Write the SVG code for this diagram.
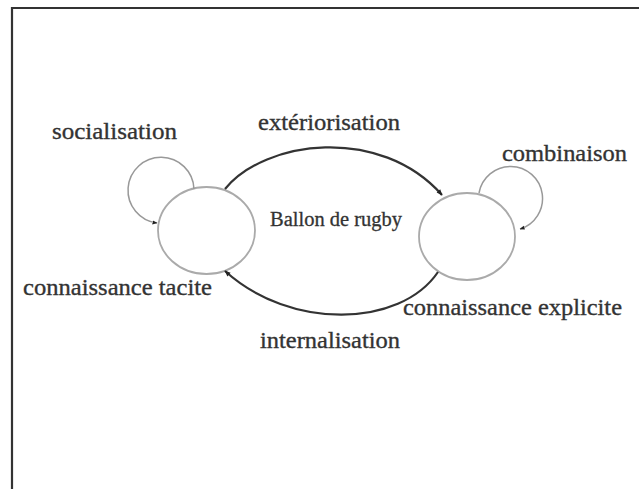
<svg xmlns="http://www.w3.org/2000/svg" width="639" height="489" viewBox="0 0 639 489">
  <style>
    .lbl { font-family: "Liberation Serif", "Times New Roman", "DejaVu Serif", serif; font-size: 24px; fill: #333; stroke: #333; stroke-width: 0.35; }
    .mid { font-family: "Liberation Serif", "Times New Roman", "DejaVu Serif", serif; font-size: 20px; fill: #333; stroke: #333; stroke-width: 0.3; }
    .node { fill: #fff; stroke: #aaa; stroke-width: 1.8; }
    .loop { fill: none; stroke: #999; stroke-width: 1.5; }
    .flow { fill: none; stroke: #333; stroke-width: 2.2; }
  </style>
  <defs>
    <marker id="tip" viewBox="0 0 10 10" refX="9" refY="5" markerWidth="5" markerHeight="5" markerUnits="userSpaceOnUse" orient="auto">
      <path d="M0,1 L10,5 L0,9 Z" fill="#222"/>
    </marker>
    <marker id="tipBig" viewBox="0 0 10 10" refX="9" refY="5" markerWidth="7" markerHeight="6" markerUnits="userSpaceOnUse" orient="auto">
      <path d="M0,1 L10,5 L0,9 Z" fill="#222"/>
    </marker>
  </defs>

  <rect width="639" height="489" fill="#fff"/>
  <!-- frame: left and top edges only -->
  <path d="M12,489 V8 H639" fill="none" stroke="#333" stroke-width="2.2"/>

  <g id="tacite">
    <ellipse class="node" cx="206.5" cy="230.5" rx="48.5" ry="43.5"/>
    <text class="lbl" x="23" y="295" textLength="189" lengthAdjust="spacingAndGlyphs">connaissance tacite</text>
  </g>

  <g id="explicite">
    <ellipse class="node" cx="467" cy="236.5" rx="48" ry="43.5"/>
    <text class="lbl" x="403" y="315" textLength="219" lengthAdjust="spacingAndGlyphs">connaissance explicite</text>
  </g>

  <g id="ballon">
    <text class="mid" x="270" y="226" textLength="132" lengthAdjust="spacingAndGlyphs">Ballon de rugby</text>
  </g>

  <g id="connectors">
    <path class="loop" d="M194,189 A33,33 0 1 0 157,223" marker-end="url(#tip)"/>
    <path class="loop" d="M479,193 A32,32 0 1 1 520,229" marker-end="url(#tip)"/>
    <path class="flow" d="M225,189 C265,140 380,125 442,195" marker-end="url(#tipBig)"/>
    <path class="flow" d="M438,272 C400,328 290,330 225,271" marker-end="url(#tipBig)"/>
    <text class="lbl" x="52" y="139" textLength="125" lengthAdjust="spacingAndGlyphs">socialisation</text>
    <text class="lbl" x="502" y="161" textLength="125" lengthAdjust="spacingAndGlyphs">combinaison</text>
    <text class="lbl" x="258" y="130" textLength="142" lengthAdjust="spacingAndGlyphs">extériorisation</text>
    <text class="lbl" x="260" y="348" textLength="140" lengthAdjust="spacingAndGlyphs">internalisation</text>
  </g>
</svg>
